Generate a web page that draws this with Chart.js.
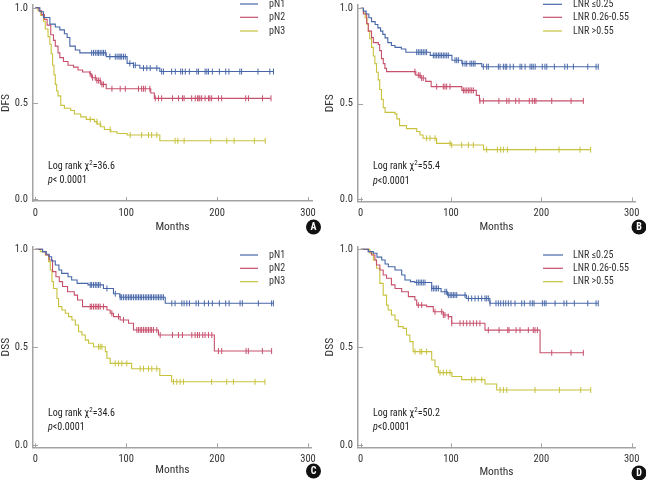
<!DOCTYPE html>
<html><head><meta charset="utf-8">
<script src="https://cdn.jsdelivr.net/npm/chart.js@4.4.1/dist/chart.umd.min.js"></script>
<style>
html,body{margin:0;padding:0;background:#fff;}
#wrap{position:relative;width:646px;height:480px;overflow:hidden;background:#fff;}
canvas{position:absolute;}
</style></head><body>
<div id="wrap">
<canvas id="cA" width="326" height="240" style="left:0px;top:0px"></canvas>
<canvas id="cC" width="326" height="240" style="left:0px;top:240px"></canvas>
<canvas id="cB" width="326" height="240" style="left:320px;top:0px"></canvas>
<canvas id="cD" width="326" height="240" style="left:320px;top:240px"></canvas>
</div>
<script>
// ---------- tick labels / categories ----------
const xTicks = [0, 100, 200, 300];
const yTicks = [0, 0.5, 1];
const xTitle = 'Months';
const pnLabels = ['pN1', 'pN2', 'pN3'];
const lnrLabels = ['LNR \u22640.25', 'LNR 0.26-0.55', 'LNR >0.55'];

// ---------- Panel A: DFS by pN  (step points [month, survival]) ----------
const dfsPN1 = [[0,1],[5,0.98],[9,0.95],[16,0.915],[22,0.9],[27,0.885],[32,0.865],[35,0.845],[38,0.80],[44,0.78],[49,0.765],[78,0.745],[101,0.71],[108,0.70],[115,0.685],[137,0.667],[262,0.667]];
const dfsPN2 = [[0,1],[4,0.985],[7,0.965],[10,0.94],[13,0.91],[17,0.86],[20,0.83],[22,0.80],[25,0.765],[27,0.74],[31,0.72],[36,0.70],[42,0.69],[47,0.675],[52,0.665],[60,0.655],[62,0.635],[67,0.62],[72,0.60],[78,0.577],[127,0.555],[131,0.527],[259,0.527]];
const dfsPN3 = [[0,1],[3,0.985],[6,0.96],[9,0.93],[11,0.89],[14,0.85],[16,0.81],[17.5,0.76],[19,0.70],[20.5,0.65],[22,0.60],[23.5,0.565],[25,0.54],[28,0.49],[32,0.475],[39,0.463],[43,0.445],[50,0.43],[56,0.417],[65,0.405],[68,0.393],[72,0.378],[76,0.364],[83,0.352],[90,0.343],[101,0.335],[137,0.305],[253,0.305]];
const dfsPN1Cens = [62,64,66,68,69.6,71.4,73.3,75,77,82,88,90,92,93.4,95,97,99,104,108,110,119,122.7,126.4,133.7,139,141,150,154,160,162,165,169.5,177.7,179.5,186.8,188.7,190.5,194.8,202.5,209.5,213,225,227,245,258,262];
const dfsPN2Cens = [60.4,63,66,67.8,69.6,71.4,73.3,75,84.3,93.4,99,113.5,117,119,121,126,132,135.5,139,151,157.5,162,163.7,172,176,178.4,180,181,183,186.8,190.5,192,194,201.5,205,231.5,234.5,250,259.3];
const dfsPN3Cens = [60.4,67.8,71.4,82.4,104.4,117,124.5,128,133.7,153.8,156.8,163.7,193,210.7,218.7,241,253];

// ---------- Panel B: DFS by LNR ----------
const dfsL1 = [[0,1],[3,0.985],[6,0.97],[9,0.95],[12,0.93],[16,0.915],[19,0.897],[22,0.88],[24.5,0.863],[27,0.845],[30,0.82],[34,0.805],[38,0.795],[45,0.787],[50,0.77],[77,0.753],[101,0.728],[112,0.71],[134,0.694],[263,0.694]];
const dfsL2 = [[0,1],[3,0.97],[6.6,0.92],[8.4,0.88],[12,0.846],[14,0.82],[19.5,0.81],[21,0.778],[23,0.736],[25,0.71],[26.8,0.685],[28.6,0.668],[61,0.65],[66,0.635],[72,0.617],[78,0.59],[112,0.57],[128,0.544],[131.5,0.515],[246.5,0.515]];
const dfsL3 = [[0,1],[3,0.975],[5,0.95],[7,0.915],[8.5,0.88],[10,0.84],[12,0.795],[14,0.75],[15.7,0.71],[17.5,0.665],[19.4,0.625],[21,0.575],[23,0.523],[25,0.48],[27,0.455],[38,0.447],[40,0.421],[43,0.386],[50.7,0.37],[62,0.355],[65.7,0.337],[69,0.32],[84,0.293],[100,0.284],[136,0.26],[254.6,0.26]];
const dfsL1Cens = [62,63.8,65.7,67.5,69.3,71.2,73,80.4,82.3,84.1,86,87.8,89.6,91.5,93.3,95.2,97,104.4,106.3,108.1,113,115.5,117.4,121,122.9,124.7,126.6,135.8,139.5,141.3,152.4,154.3,158,160,161.7,165.4,169,176.4,178.3,182,187.5,189.4,191,193.2,201,204,206,214.4,226,228.8,235.5,251.4,260.6,263];
const dfsL2Cens = [60,63.8,65.7,67.5,69.3,84.1,91.5,93.3,95.2,98.9,113.7,115.5,117.4,119.2,121,122.9,124.7,132,135.8,153,161.7,164.2,171.6,175.3,186.7,190,192.3,194,211.5,232.9,246.5];
const dfsL3Cens = [73,76.7,82.3,98.9,100.8,111.8,119.2,124.7,139.5,151.3,155,158,162.4,193.8,219.6,242.9,254.6];

// ---------- Panel C: DSS by pN ----------
const dssPN1 = [[0,1],[8,0.988],[12,0.975],[15,0.962],[18,0.94],[22,0.92],[26,0.894],[29,0.877],[36,0.86],[40,0.843],[46,0.826],[58,0.818],[75,0.80],[86,0.773],[93,0.755],[143,0.724],[262,0.724]];
const dssPN2 = [[0,1],[8,0.988],[11.7,0.971],[15.4,0.945],[19,0.886],[22.7,0.86],[26.4,0.835],[30,0.81],[35.5,0.783],[42.9,0.766],[46.5,0.741],[52,0.707],[78.8,0.69],[82.4,0.673],[86,0.656],[93.4,0.639],[102.6,0.622],[108,0.588],[135.5,0.562],[197,0.48],[260,0.48]];
const dssPN3 = [[0,1],[5.5,0.988],[11,0.971],[14.6,0.937],[16.5,0.894],[18.3,0.835],[20,0.80],[23.8,0.749],[25.6,0.707],[29.3,0.69],[33,0.673],[36.6,0.656],[40.3,0.639],[44,0.613],[47.6,0.579],[51.3,0.562],[55,0.536],[58.6,0.52],[64,0.502],[77,0.477],[78.8,0.443],[82.4,0.417],[106,0.39],[137,0.355],[150,0.323],[252.7,0.323]];
const dssPN1Cens = [60.4,62,64,66,67.8,69.6,71.4,78.8,88,93.4,95,97,99,100.7,102.6,104.4,106,108,110,111.7,113.5,115.4,117,119,121,122.7,124.5,126.4,128,130,131.8,133.7,135.5,137.4,139.2,141,150.2,153.8,161.2,163.7,166.7,169.6,176.9,179.5,186,190.5,194.8,202.5,209.5,213.2,225.3,227.8,245.4,260,262];
const dssPN2Cens = [60.4,62,64,66,67.8,69.6,71.4,75,84.2,91.6,97,111.7,113.5,115.4,117,119,121,122.7,124.5,126.4,128,130,133.7,137.4,150.9,157.5,161.9,172.2,175.8,178.4,180.5,184.2,186.8,190.5,194.2,201.5,205.1,231.9,234.4,249.8,260];
const dssPN3Cens = [69.6,71.4,73.3,87.9,91.6,95.2,100.7,115.4,119,124.5,128.2,133.7,152,155.7,159.3,163,194,210.6,218,241.8,252.7];

// ---------- Panel D: DSS by LNR ----------
const dssL1 = [[0,1],[8.4,0.988],[14,0.98],[18,0.96],[23.3,0.945],[27,0.925],[30.6,0.911],[38,0.894],[45.4,0.869],[49,0.843],[55,0.835],[60,0.83],[78.6,0.80],[89,0.783],[96,0.766],[117,0.749],[143,0.724],[263,0.724]];
const dssL2 = [[0,1],[8.4,0.988],[12,0.971],[15.7,0.945],[17.5,0.92],[21.2,0.894],[24.9,0.869],[28.6,0.852],[34,0.818],[38,0.80],[45.4,0.783],[52.8,0.758],[60,0.741],[62,0.715],[73,0.707],[80.4,0.681],[91.5,0.664],[97,0.656],[100.8,0.622],[137.6,0.587],[198.6,0.471],[246.5,0.471]];
const dssL3 = [[0,1],[10.2,0.98],[14,0.945],[17.5,0.903],[21.2,0.826],[24.9,0.766],[28.6,0.715],[30.4,0.69],[34,0.664],[38,0.639],[41.6,0.605],[47,0.596],[50.7,0.562],[54.4,0.528],[58,0.477],[78.6,0.434],[82.3,0.40],[86,0.37],[101,0.35],[111.8,0.334],[137.6,0.312],[150.6,0.281],[254.7,0.281]];
const dssL1Cens = [62,63.8,65.7,67.5,69.3,71.2,78.6,80.4,82.3,84.1,86,93.3,95.2,97,99,100.8,102.6,104.4,106.3,115.5,119.2,122.9,126.6,130.2,134,137.6,139.5,141.3,143.2,149.8,152.4,155,158,160.6,163.5,166.4,170.9,178.3,181.2,187.5,190,191.9,201.1,203.3,205.2,215.2,225.1,228.1,236.5,251.4,260.6,263];
const dssL2Cens = [63.8,67.5,82.3,89.7,91.5,93.3,97,100.8,110,113.6,117.4,121,124.7,128.4,132,141.3,153.2,162.8,164.2,172,176.4,185.6,191.1,193,195.6,211.5,232.9,246.5];
const dssL3Cens = [60.1,65.7,67.5,73,87.8,91.5,95.2,98.9,122.9,126.6,134,154.3,158,161.7,193,220,243.6,254.7];

// ---------- test statistics ----------
const chiA = '36.6', chiB = '55.4', chiC = '34.6', chiD = '50.2';
const pA = '< 0.0001', pB = '<0.0001', pC = '<0.0001', pD = '<0.0001';

// ---------- styling ----------
const COLORS = ['#4767a8', '#c7506c', '#c8c23e'];
const AXIS = '#a3a3a3';
const TXT = '#333333';
const FONT = "'Roboto Condensed','DejaVu Sans Condensed',sans-serif";
Chart.defaults.font.family = FONT;

function survAt(steps, t) {
  let v = steps[0][1];
  for (const p of steps) { if (p[0] <= t) v = p[1]; else break; }
  return v;
}

const decor = {
  id: 'decor',
  afterDraw(chart, args, o) {
    const ctx = chart.ctx, xs = chart.scales.x, ys = chart.scales.y, ca = chart.chartArea;
    ctx.save();
    // inner tick marks
    ctx.strokeStyle = AXIS; ctx.lineWidth = 1;
    ctx.beginPath();
    xTicks.forEach(v => { const p = Math.round(xs.getPixelForValue(v)) + 0.5; ctx.moveTo(p, ca.bottom); ctx.lineTo(p, ca.bottom - 4); });
    yTicks.forEach(v => { const p = Math.round(ys.getPixelForValue(v)) + 0.5; ctx.moveTo(ca.left, p); ctx.lineTo(ca.left + 5, p); });
    ctx.stroke();
    // legend
    ctx.font = '10px ' + FONT; ctx.textBaseline = 'middle'; ctx.textAlign = 'left';
    chart.data.datasets.filter(d => d.isCurve).forEach((d, i) => {
      const yy = o.legY[i];
      ctx.strokeStyle = d.borderColor; ctx.lineWidth = 1.2;
      ctx.beginPath(); ctx.moveTo(o.legX0, yy); ctx.lineTo(o.legX1, yy); ctx.stroke();
      ctx.fillStyle = TXT; ctx.fillText(d.label, o.legTX, yy);
    });
    // statistics
    ctx.fillStyle = '#222';
    let x = o.statX;
    ctx.font = '10px ' + FONT;
    const s1 = 'Log rank \u03C7';
    ctx.fillText(s1, x, o.statY1); x += ctx.measureText(s1).width;
    ctx.font = '7px ' + FONT;
    ctx.fillText('2', x, o.statY1 - 3); x += ctx.measureText('2').width;
    ctx.font = '10px ' + FONT;
    ctx.fillText('=' + o.chi, x, o.statY1);
    x = o.statX;
    ctx.font = 'italic 10px ' + FONT;
    ctx.fillText('p', x, o.statY2); x += ctx.measureText('p').width;
    ctx.font = '10px ' + FONT;
    ctx.fillText(o.p, x, o.statY2);
    // badge
    ctx.fillStyle = '#111';
    ctx.beginPath(); ctx.arc(o.bx, o.by, 7.5, 0, Math.PI * 2); ctx.fill();
    ctx.fillStyle = '#fff'; ctx.font = 'bold 10px ' + FONT; ctx.textAlign = 'center';
    ctx.fillText(o.letter, o.bx, o.by + 0.5);
    ctx.restore();
  }
};

function makePanel(id, p) {
  const datasets = [];
  p.series.forEach((s, i) => {
    datasets.push({
      label: p.labels[i], isCurve: true,
      data: s.steps.map(q => ({ x: q[0], y: q[1] })),
      borderColor: COLORS[i], borderWidth: 1.1, stepped: 'before',
      pointRadius: 0, fill: false
    });
    datasets.push({
      label: p.labels[i] + ' censored', isCurve: false,
      data: s.cens.map(t => ({ x: t, y: survAt(s.steps, t) })),
      showLine: false, borderColor: COLORS[i],
      pointStyle: 'line', pointRotation: 90, pointRadius: 3,
      pointBorderColor: COLORS[i], pointBorderWidth: 1
    });
  });
  const W = 326, H = 240;
  new Chart(document.getElementById(id), {
    type: 'line',
    data: { datasets },
    options: {
      responsive: false, animation: false, devicePixelRatio: 1,
      layout: { padding: { left: 0, top: p.top, right: W - p.right, bottom: 0 } },
      plugins: {
        legend: { display: false }, tooltip: { enabled: false },
        decor: p.decor
      },
      scales: {
        x: {
          type: 'linear', min: p.xmin, max: p.xmax,
          afterBuildTicks: s => { s.ticks = xTicks.map(v => ({ value: v })); },
          afterFit: s => { s.height = H - p.bottom; s.paddingLeft = 0; s.paddingRight = 0; },
          grid: { display: false, drawTicks: false },
          border: { color: AXIS, width: 1.5 },
          ticks: { padding: 6, color: TXT, font: { size: 10.5 }, maxRotation: 0, autoSkip: false },
          title: { display: true, text: xTitle, color: TXT, font: { size: 11.5 }, padding: { top: 0, bottom: p.xtPad } }
        },
        y: {
          type: 'linear', min: p.ymin, max: p.ymax,
          afterBuildTicks: s => { s.ticks = yTicks.map(v => ({ value: v })); },
          afterFit: s => { s.width = p.left; s.paddingTop = 0; s.paddingBottom = 0; },
          grid: { display: false, drawTicks: false },
          border: { color: AXIS, width: 1.5 },
          ticks: { padding: 5, color: TXT, font: { size: 10.5 }, callback: v => Number(v).toFixed(1) },
          title: { display: true, text: p.yTitle, color: TXT, font: { size: 11.5, lineHeight: 1 }, padding: { top: p.ytPad, bottom: 0 } }
        }
      }
    },
    plugins: [decor]
  });
}

makePanel('cA', {
  labels: pnLabels, yTitle: 'DFS',
  series: [{ steps: dfsPN1, cens: dfsPN1Cens }, { steps: dfsPN2, cens: dfsPN2Cens }, { steps: dfsPN3, cens: dfsPN3Cens }],
  left: 33, right: 312, top: 0, bottom: 201,
  xmin: -2.53, xmax: 304.4, ymin: -0.0102, ymax: 1.0153, xtPad: 6, ytPad: 0,
  decor: { legX0: 240, legX1: 258, legTX: 269, legY: [4, 17.3, 31], statX: 48, statY1: 166, statY2: 180, chi: chiA, p: pA, bx: 313.5, by: 227, letter: 'A' }
});
makePanel('cB', {
  labels: lnrLabels, yTitle: 'DFS',
  series: [{ steps: dfsL1, cens: dfsL1Cens }, { steps: dfsL2, cens: dfsL2Cens }, { steps: dfsL3, cens: dfsL3Cens }],
  left: 38, right: 315, top: 0, bottom: 201.5,
  xmin: -2.99, xmax: 303.7, ymin: -0.0112, ymax: 1.0168, xtPad: 6, ytPad: 4,
  decor: { legX0: 223, legX1: 242, legTX: 253, legY: [4.3, 17.3, 31], statX: 53, statY1: 166, statY2: 181, chi: chiB, p: pB, bx: 319, by: 227, letter: 'B' }
});
makePanel('cC', {
  labels: pnLabels, yTitle: 'DSS',
  series: [{ steps: dssPN1, cens: dssPN1Cens }, { steps: dssPN2, cens: dssPN2Cens }, { steps: dssPN3, cens: dssPN3Cens }],
  left: 33, right: 311.7, top: 7, bottom: 207.3,
  xmin: -2.53, xmax: 304.1, ymin: -0.0118, ymax: 1.0118, xtPad: 3, ytPad: 0,
  decor: { legX0: 240, legX1: 258, legTX: 269, legY: [15, 28.3, 41.7], statX: 48, statY1: 173, statY2: 187, chi: chiC, p: pC, bx: 313.5, by: 231, letter: 'C' }
});
makePanel('cD', {
  labels: lnrLabels, yTitle: 'DSS',
  series: [{ steps: dssL1, cens: dssL1Cens }, { steps: dssL2, cens: dssL2Cens }, { steps: dssL3, cens: dssL3Cens }],
  left: 38, right: 315, top: 7, bottom: 207.3,
  xmin: -2.99, xmax: 303.7, ymin: -0.0118, ymax: 1.0118, xtPad: 1, ytPad: 4,
  decor: { legX0: 223, legX1: 243, legTX: 253, legY: [15, 28.3, 41.7], statX: 53, statY1: 173, statY2: 187, chi: chiD, p: pD, bx: 319, by: 233, letter: 'D' }
});
</script>
</body></html>
